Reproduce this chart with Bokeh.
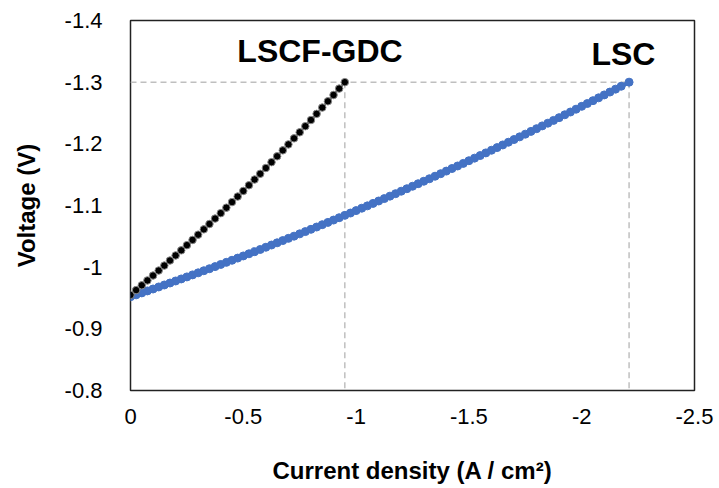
from bokeh.plotting import figure
from bokeh.models import Range1d, FixedTicker, Label, ColumnDataSource
from bokeh.embed import file_html
from bokeh.resources import INLINE

# Polarisation curves: current density (A/cm2) and cell voltage (V)
lscf_j = [0.0, -0.025, -0.05, -0.075, -0.1, -0.125, -0.15, -0.175, -0.2, -0.225,
          -0.25, -0.275, -0.3, -0.325, -0.35, -0.375, -0.4, -0.425, -0.45, -0.475,
          -0.5, -0.525, -0.55, -0.575, -0.6, -0.625, -0.65, -0.675, -0.7, -0.725,
          -0.75, -0.775, -0.8, -0.825, -0.85, -0.875, -0.9, -0.925, -0.95]
lscf_v = [-0.955, -0.9628, -0.9706, -0.9785, -0.9864, -0.9945, -1.0026, -1.0108, -1.0190, -1.0273,
          -1.0357, -1.0442, -1.0527, -1.0613, -1.0700, -1.0788, -1.0876, -1.0965, -1.1055, -1.1145,
          -1.1236, -1.1328, -1.1421, -1.1514, -1.1608, -1.1703, -1.1798, -1.1894, -1.1991, -1.2089,
          -1.2187, -1.2286, -1.2386, -1.2486, -1.2588, -1.2690, -1.2792, -1.2896, -1.3000]

lsc_j = [0.0, -0.025, -0.05, -0.075, -0.1, -0.125, -0.15, -0.175, -0.2, -0.225,
         -0.25, -0.275, -0.3, -0.325, -0.35, -0.375, -0.4, -0.425, -0.45, -0.475,
         -0.5, -0.525, -0.55, -0.575, -0.6, -0.625, -0.65, -0.675, -0.7, -0.725,
         -0.75, -0.775, -0.8, -0.825, -0.85, -0.875, -0.9, -0.925, -0.95, -0.975,
         -1.0, -1.025, -1.05, -1.075, -1.1, -1.125, -1.15, -1.175, -1.2, -1.225,
         -1.25, -1.275, -1.3, -1.325, -1.35, -1.375, -1.4, -1.425, -1.45, -1.475,
         -1.5, -1.525, -1.55, -1.575, -1.6, -1.625, -1.65, -1.675, -1.7, -1.725,
         -1.75, -1.775, -1.8, -1.825, -1.85, -1.875, -1.9, -1.925, -1.95, -1.975,
         -2.0, -2.025, -2.05, -2.075, -2.1, -2.125, -2.15, -2.175, -2.21]
lsc_v = [-0.9520, -0.9551, -0.9583, -0.9615, -0.9646, -0.9679, -0.9711, -0.9743, -0.9776, -0.9809,
         -0.9842, -0.9875, -0.9908, -0.9942, -0.9975, -1.0009, -1.0044, -1.0078, -1.0112, -1.0147,
         -1.0182, -1.0217, -1.0252, -1.0287, -1.0323, -1.0359, -1.0395, -1.0431, -1.0467, -1.0503,
         -1.0540, -1.0577, -1.0614, -1.0651, -1.0689, -1.0726, -1.0764, -1.0802, -1.0840, -1.0878,
         -1.0917, -1.0956, -1.0994, -1.1034, -1.1073, -1.1112, -1.1152, -1.1192, -1.1232, -1.1272,
         -1.1312, -1.1353, -1.1393, -1.1434, -1.1475, -1.1516, -1.1558, -1.1600, -1.1641, -1.1683,
         -1.1726, -1.1768, -1.1810, -1.1853, -1.1896, -1.1939, -1.1982, -1.2026, -1.2070, -1.2113,
         -1.2157, -1.2202, -1.2246, -1.2291, -1.2335, -1.2380, -1.2425, -1.2471, -1.2516, -1.2562,
         -1.2608, -1.2654, -1.2700, -1.2746, -1.2793, -1.2840, -1.2887, -1.2934, -1.3000]

series_names = ["LSCF-GDC", "LSC"]

x_ticks = [0, -0.5, -1, -1.5, -2, -2.5]
x_tick_labels = ["0", "-0.5", "-1", "-1.5", "-2", "-2.5"]
y_ticks = [-0.8, -0.9, -1, -1.1, -1.2, -1.3, -1.4]
y_tick_labels = ["-0.8", "-0.9", "-1", "-1.1", "-1.2", "-1.3", "-1.4"]

FONT = "Liberation Sans"
BLUE = "#4472C4"
GUIDE = "#BFBFBF"

p = figure(width=719, height=488, output_backend="svg", toolbar_location=None,
           x_range=Range1d(0, -2.5), y_range=Range1d(-0.8, -1.4))
p.min_border_left = 130
p.min_border_right = 25
p.min_border_top = 20
p.min_border_bottom = 98
p.background_fill_color = "white"
p.border_fill_color = "white"
p.outline_line_color = "#222222"
p.outline_line_width = 1.5
p.xgrid.visible = False
p.ygrid.visible = False

for ax in (p.xaxis[0], p.yaxis[0]):
    ax.axis_line_color = None
    ax.major_tick_line_color = None
    ax.minor_tick_line_color = None
    ax.major_label_text_font = FONT
    ax.major_label_text_font_size = "22px"
    ax.major_label_text_color = "black"
    ax.axis_label_text_font = FONT
    ax.axis_label_text_font_style = "bold"
    ax.axis_label_text_font_size = "24px"
    ax.axis_label_text_color = "black"

p.xaxis.ticker = FixedTicker(ticks=x_ticks)
p.xaxis.major_label_overrides = dict(zip(x_ticks, x_tick_labels))
p.yaxis.ticker = FixedTicker(ticks=y_ticks)
p.yaxis.major_label_overrides = dict(zip(y_ticks, y_tick_labels))
p.xaxis.axis_label = "Current density (A / cm²)"
p.yaxis.axis_label = "Voltage (V)"
p.xaxis.major_label_standoff = 12
p.yaxis.major_label_standoff = 22
p.xaxis.axis_label_standoff = 30
p.yaxis.axis_label_standoff = 22

# dashed guides from each curve's end point
j_end = [lscf_j[-1], lsc_j[-1]]
v_end = [lscf_v[-1], lsc_v[-1]]
p.segment(x0=[0], y0=[v_end[1]], x1=[j_end[1]], y1=[v_end[1]],
          line_color=GUIDE, line_width=1.5, line_dash="6 4")
p.segment(x0=j_end, y0=v_end, x1=j_end, y1=[-0.8, -0.8],
          line_color=GUIDE, line_width=1.5, line_dash="6 4")

lscf = ColumnDataSource(dict(j=lscf_j, v=lscf_v))
lsc = ColumnDataSource(dict(j=lsc_j, v=lsc_v))

p.line("j", "v", source=lsc, line_color=BLUE, line_width=4)
p.scatter("j", "v", source=lsc, size=8, fill_color=BLUE, line_color=BLUE)

p.line("j", "v", source=lscf, line_color="#3a3a3a", line_width=2)
p.scatter("j", "v", source=lscf, size=7.5, fill_color="black", line_color="#8a8a8a", line_width=1)

for name, x, y in zip(series_names, [-0.84, -2.185], [-1.351, -1.346]):
    p.add_layout(Label(x=x, y=y, text=name, text_font=FONT, text_font_style="bold",
                       text_font_size="32px", text_align="center", text_baseline="middle",
                       text_color="black"))

open("out.html", "w").write(file_html(p, INLINE))
